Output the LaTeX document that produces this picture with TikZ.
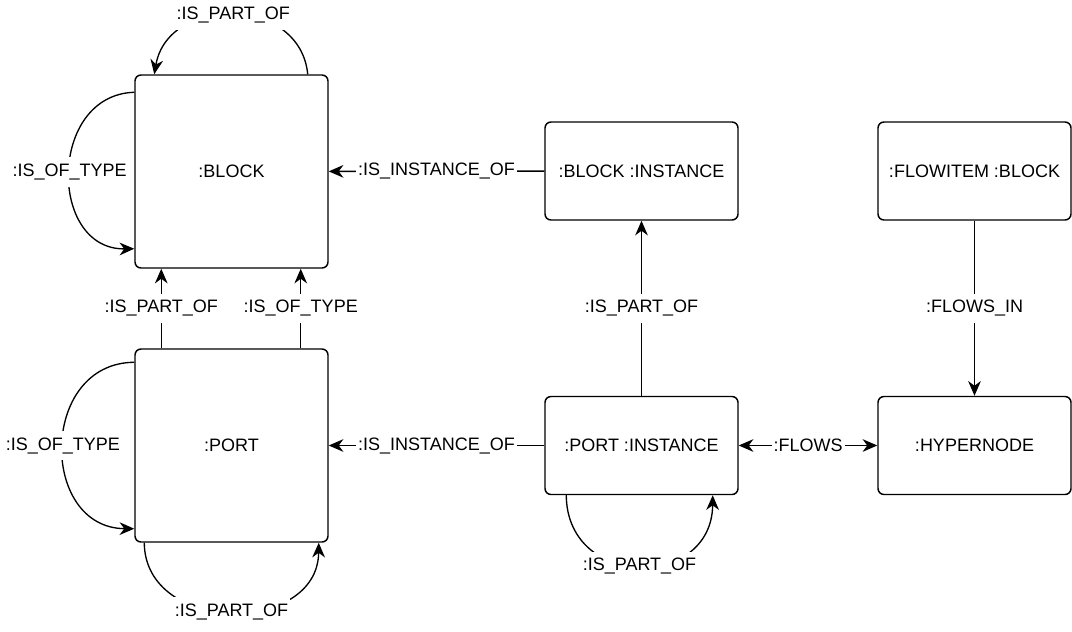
\documentclass[tikz,border=0pt]{standalone}
\usepackage{fontspec}
\setmainfont{Liberation Sans}
\usetikzlibrary{arrows.meta, calc}

\begin{document}
\begin{tikzpicture}[
    x=0.75pt, y=-0.75pt,
    box/.style  = {rectangle, rounded corners=4.5pt, draw=black, line width=1.1pt,
                   fill=white, minimum width=144.75pt, align=center,
                   font=\fontsize{13.5}{16}\selectfont},
    tall/.style = {box, minimum height=144.75pt},
    flat/.style = {box, minimum height=73.5pt},
    rel/.style  = {-{Stealth[length=11pt, width=9.5pt, inset=3.5pt]}, line width=1pt},
    both/.style = {{Stealth[length=11pt, width=9.5pt, inset=3.5pt]}-{Stealth[length=11pt, width=9.5pt, inset=3.5pt]},
                   line width=1pt},
    lbl/.style  = {fill=white, inner xsep=1.5pt, inner ysep=5pt,
                   font=\fontsize{13.5}{16}\selectfont},
  ]
    \useasboundingbox (0,0) rectangle (1072,632);

    % ── Nodes ────────────────────────────────────────────────
    \node[tall] (blk)      at (231.5, 171.5) {:BLOCK};
    \node[tall] (prt)      at (231.5, 445.5) {:PORT};
    \node[flat] (blkinst)  at (641.5, 171)   {:BLOCK :INSTANCE};
    \node[flat] (prtinst)  at (641.5, 445.5) {:PORT :INSTANCE};
    \node[flat] (flowitem) at (974.5, 171)   {:FLOWITEM :BLOCK};
    \node[flat] (hyper)    at (974.5, 445.5) {:HYPERNODE};

    % ── Block relations ──────────────────────────────────────
    \draw[rel] ($(blk.north east)+(-21,0)$) .. controls (300,-5) and (168,-5) ..
        node[lbl] {:IS\_PART\_OF} ($(blk.north west)+(20,0)$);
    \draw[rel] ($(blk.north west)+(0,18)$) .. controls (48,95) and (48,250) ..
        node[lbl] {:IS\_OF\_TYPE} ($(blk.south west)+(0,-20)$);
    \draw[rel] (blkinst) -- node[lbl] {:IS\_INSTANCE\_OF} (blk);

    % ── Port relations ───────────────────────────────────────
    \draw[rel] ($(prt.north west)+(27,0)$) -- node[lbl] {:IS\_PART\_OF}
        ($(blk.south west)+(27,0)$);
    \draw[rel] ($(prt.north east)+(-28,0)$) -- node[lbl] {:IS\_OF\_TYPE}
        ($(blk.south east)+(-28,0)$);
    \draw[rel] ($(prt.north west)+(0,14)$) .. controls (39,363) and (39,528) ..
        node[lbl] {:IS\_OF\_TYPE} ($(prt.south west)+(0,-14)$);
    \draw[rel] ($(prt.south west)+(10,0)$) .. controls (145,635) and (318,635) ..
        node[lbl] {:IS\_PART\_OF} ($(prt.south east)+(-10,0)$);
    \draw[rel] (prtinst) -- node[lbl] {:IS\_INSTANCE\_OF} (prt);

    % ── Instance and flow relations ──────────────────────────
    \draw[rel] (prtinst) -- node[lbl] {:IS\_PART\_OF} (blkinst);
    \draw[rel] ($(prtinst.south west)+(22,0)$) .. controls (567,590) and (712,590) ..
        node[lbl] {:IS\_PART\_OF} ($(prtinst.south east)+(-26,0)$);
    \draw[both] (prtinst) -- node[lbl] {:FLOWS} (hyper);
    \draw[rel] (flowitem) -- node[lbl] {:FLOWS\_IN} (hyper);

  \end{tikzpicture}
\end{document}
